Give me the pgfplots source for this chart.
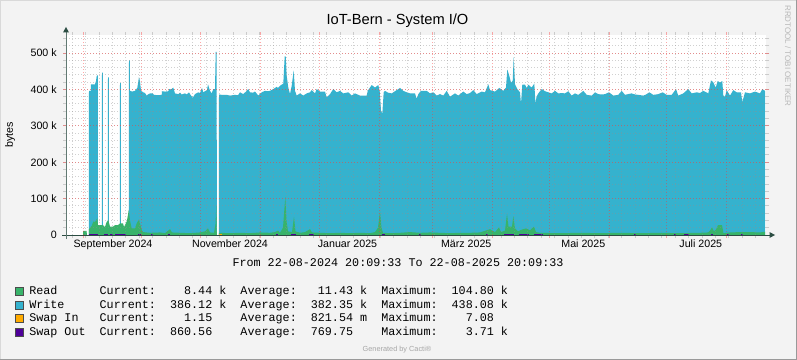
\documentclass[border=0pt]{standalone}
\usepackage{pgfplots}
\pgfplotsset{compat=1.18}
\usepackage{fontspec}
\setmainfont{Liberation Sans}
\setmonofont{Liberation Mono}
\definecolor{bgc}{HTML}{F3F3F3}
\definecolor{wcol}{HTML}{35B2CE}
\definecolor{rcol}{HTML}{38B36A}
\definecolor{sicol}{HTML}{FFAB00}
\definecolor{socol}{HTML}{4E0099}
\definecolor{axc}{HTML}{2C4D43}
\definecolor{mgridc}{HTML}{FF3030}
\definecolor{gridc}{HTML}{909090}

\pgfplotstableread{
x y
66 0
88.9 0
89 396
90.9 396
91 414
95 414
96 423
96.7 437
97.9 439
98 0
101.9 0
102 446
102.8 446
102.9 0
107.9 0
108 433
108.8 433
108.9 0
119.9 0
120 417
120.8 417
120.9 0
128.9 0
129 480
129.8 480
130 396
132 394
135 396
137.3 404
139 434
140 422
141 396
143.3 392
145 390
146.7 383
148 386
150 389
152.7 389
154 385
158 384
161.7 385
162 395
165 394
168.3 395
169.3 401
171 400
173.3 405
175 389
178.3 387
180 391
181.7 386
185 389
186.7 386
189 392
190 387
192.7 377
195 387
198.3 392
200 390
202 404
203.3 392
205 395
207 398
208 414
210 396
211.7 389
213.3 401
215 401
215.7 503
216.7 503
216.8 0
218.9 0
219 386
222 385
226.7 385
230 383
235 385
238 384
240 392
243.3 387
246.7 396
248.3 401
250 392
253 391
255 394
258.3 383
261.7 392
265 396
268 395
270 396
273.3 401
276.7 407
278 404
280 410
283.3 416
284.7 491
285.7 491
286.7 437
288.3 405
290 387
291.7 410
293.7 452
295 396
296.7 383
300 389
303.3 383
306.7 389
310 392
311.7 398
315 389
316.7 401
320 394
325 394
326.7 378
330 387
333.3 401
336.7 392
340 396
343.3 389
348.3 392
351.7 383
355 389
360 383
366.7 383
367.7 396
371.7 412
375 405
378.3 412
379.7 396
381 342
382.3 333
383.7 392
385 396
388 391
391.7 389
395 395
400 404
403.3 396
406.7 392
410 389
415 389
416.7 374
418.3 387
421 396
426.7 396
430 389
433.3 392
436.7 383
440 387
443.3 383
446.7 396
450 380
455 389
458.3 383
463.3 394
466.7 387
470 390
473.3 398
476.7 387
481.7 394
485 392
488.3 414
490 398
495 394
499.3 404
503.3 396
506 405
507.3 455
509 440
511 419
512.7 423
513.7 489
515 414
517.3 401
520 392
521 360
522.3 413
525 413
526.7 404
528.3 413
531.7 405
534.3 416
535.5 360
536.5 380
538.3 389
541.7 401
545 395
548.3 392
551.7 389
555 396
558.3 389
561.7 390
565 389
568.3 395
571.7 383
575 389
578.3 385
583.3 396
586.7 385
591.7 383
595 392
598.3 387
602 386
605 387
609 392
613.3 383
618.3 385
621.7 396
625 385
628 387
631.7 389
635 386
638.3 385
643.3 383
646 386
649.3 392
653.3 385
658.3 387
662.7 392
666.7 385
671.7 385
676 401
678.3 383
683.3 389
688.3 401
691.7 389
696.7 392
700 390
703.3 396
708.3 389
711 425
713.3 419
715.7 405
717.7 423
720 419
722.3 423
723.3 383
725 380
726.7 398
730 383
733.3 398
736.7 392
741 392
742.3 365
745 392
750 389
755 394
760 389
762.3 401
765 396
765.1 0
}\writedata

\pgfplotstableread{
x y
66 0
83 0
83.2 11
86.7 11
86.8 0
88.9 0
89 16
91.7 25
93.3 37
95 36
97.3 46
98 27
103 27
105 22
106.7 36
108.3 41
110 23
113 23
115 27
118 27
120 32
123 32
124 22
125 27
126.7 37
128 55
128.7 69
130 40
131.7 18
135 18
136.7 32
139 43
140 32
141.7 14
143 8
150 6
160 7
165 5
170 16
172 7
180 6
190 5
200 7
205 10
208 18
210 7
214 6
215.5 30
216.3 82
216.8 0
218.9 0
219 6
230 5
240 6
250 5
260 7
270 6
275 8
278 12
280 6
283 20
285.3 105
286.5 40
288 10
292 8
294 50
295.5 10
300 6
305 8
310 16
312 7
320 6
330 5
340 6
350 5
360 6
370 5
375 8
378 20
380 64
381.5 20
383 6
390 5
400 6
410 8
420 6
430 7
440 6
450 5
460 6
470 6
480 7
490 16
495 8
499 21
501 8
505 12
507 58
508.5 23
512 23
513.3 52
515 18
518 10
522 15
526 18
530 13
534 23
536 8
540 6
560 5
580 6
600 5
620 6
640 5
660 6
680 5
700 6
708 7
710 12
712 21
714 10
716 15
718 27
720 27
722 27
723.5 5
730 7
740 8
750 8
760 7
765 9
765.1 0
}\readdata

\pgfplotstableread{
x y
89 2
98 2
98.1 nan
104 2
108 2
108.1 nan
110 2
113 2
113.1 nan
115 2
126 2
126.1 nan
138 2
141 2
141.1 nan
151 2
153 2
153.1 nan
168 2
170 2
170.1 nan
276 2
278 2
278.1 nan
291 2
296 2
296.1 nan
309 2
314 2
314.1 nan
382 2
385 2
385.1 nan
419 2
421 2
421.1 nan
486 2
488 2
488.1 nan
504 2
514 2
514.1 nan
519 2
529 2
529.1 nan
534 2
543 2
543.1 nan
634 2
636 2
636.1 nan
674 2
676 2
676.1 nan
684 2
689 2
689.1 nan
711 2
713 2
713.1 nan
727 2
729 2
729.1 nan
741 2
743 2
}\swapoutdata

\pgfplotstableread{
x y
218.5 2
221.5 2
}\swapindata

\begin{document}
\begin{tikzpicture}
\begin{scope}[x=0.75pt,y=-0.75pt]
\fill[bgc] (0,0) rectangle (797,360);
\end{scope}
\begin{axis}[
  at={(49.5pt,-176.25pt)}, anchor=south west,
  scale only axis, width=525pt, height=150pt,
  xmin=66, xmax=766, ymin=0, ymax=549.45,
  axis background/.style={fill=white},
  axis line style={draw=none},
  axis on top,
  xtick={83.3,141.5,200,260,319,379,432.3,492.3,549.3,609.3,666.7,726},
  xticklabels={},
  minor xtick={72.3,85.7,...,756},
  extra x ticks={113,230,347.5,466.2,583.3,700.8},
  extra x tick labels={September 2024,November 2024,Januar 2025,März 2025,Mai 2025,Juli 2025},
  extra x tick style={grid=none, major tick length=0pt,
     xticklabel style={anchor=base, yshift=-9.4pt}},
  ytick={0,100,...,500},
  yticklabels={0,100 k,200 k,300 k,400 k,500 k},
  minor ytick={20,40,...,540},
  grid=both,
  major grid style={mgridc, opacity=0.42, dash pattern=on 0.75pt off 1.5pt, line width=0.75pt},
  minor grid style={gridc, opacity=0.42, dash pattern=on 0.75pt off 1.5pt, line width=0.75pt},
  tick align=outside,
  major tick length=2.25pt, minor tick length=2.25pt,
  major tick style={mgridc, opacity=0.4, line width=0.75pt},
  minor tick style={gridc, opacity=0.4, line width=0.75pt},
  tick label style={font=\fontsize{8}{9.6}\selectfont, text=black, opacity=1},
  yticklabel style={xshift=-1.2pt},
]
\addplot[fill=wcol, draw=none] table {\writedata} \closedcycle;
\addplot[fill=rcol, draw=none] table {\readdata} \closedcycle;
\addplot[sicol, line width=0.9pt] table {\swapindata};
\addplot[socol, line width=0.9pt, unbounded coords=jump] table {\swapoutdata};
\end{axis}
\begin{scope}[x=0.75pt,y=-0.75pt]
% axes
\draw[axc, line width=0.75pt] (62,235) -- (770,235);
\fill[axc] (775,235) -- (769.5,232) -- (769.5,238) -- cycle;
\draw[axc!75, line width=0.75pt] (66,239) -- (66,31);
\fill[axc] (66,27) -- (63,32.5) -- (69,32.5) -- cycle;
% border
\draw[black!15, line width=0.75pt] (0.5,359.5) -- (0.5,0.5) -- (796.5,0.5);
\draw[black!40, line width=0.75pt] (796.5,0.5) -- (796.5,359.5) -- (0.5,359.5);
% texts
\node[font=\fontsize{11}{13}\selectfont] at (397.5,21) {IoT-Bern - System I/O};
\node[rotate=90, font=\fontsize{8}{10}\selectfont] at (10,135) {bytes};
\node[rotate=-90, font=\fontsize{6}{7}\selectfont, text=black!28] at (788,56) {RRDTOOL / TOBI OETIKER};
\node[anchor=base, inner sep=0pt, font=\ttfamily\fontsize{8.8}{10}\selectfont] at (398,266.5) {From~22-08-2024~20:09:33~To~22-08-2025~20:09:33};
% legend
\filldraw[fill=rcol, draw=black!70, line width=0.5pt] (15,287.5) rectangle (23,295.5);
\filldraw[fill=wcol, draw=black!70, line width=0.5pt] (15,301) rectangle (23,309);
\filldraw[fill=sicol, draw=black!70, line width=0.5pt] (15,314.5) rectangle (23,322.5);
\filldraw[fill=socol, draw=black!70, line width=0.5pt] (15,328) rectangle (23,336);
\begin{scope}[every node/.style={anchor=base west, inner sep=0pt, font=\ttfamily\fontsize{8.8}{10}\selectfont}]
\node at (29,294.5) {Read~~~~~~Current:~~~~8.44~k~~Average:~~~11.43~k~~Maximum:~~104.80~k};
\node at (29,308) {Write~~~~~Current:~~386.12~k~~Average:~~382.35~k~~Maximum:~~438.08~k};
\node at (29,321.5) {Swap~In~~~Current:~~~~1.15~~~~Average:~~821.54~m~~Maximum:~~~~7.08};
\node at (29,335) {Swap~Out~~Current:~~860.56~~~~Average:~~769.75~~~~Maximum:~~~~3.71~k};
\end{scope}
\node[font=\fontsize{5.5}{6}\selectfont, text=black!35] at (397,350) {Generated by Cacti®};
\pgfresetboundingbox
\path[use as bounding box] (0,0) rectangle (797,360);
\end{scope}
\end{tikzpicture}
\end{document}
